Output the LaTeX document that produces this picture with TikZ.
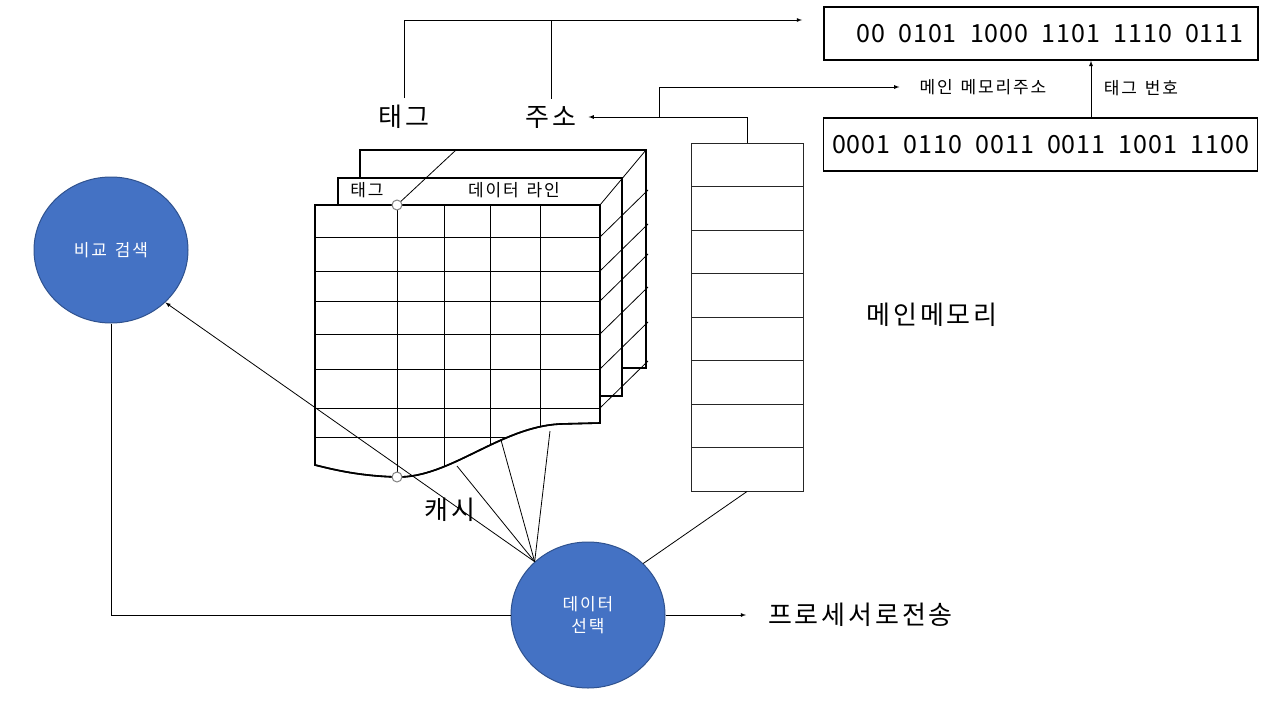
\documentclass[tikz,border=0pt]{standalone}
\usepackage{fontspec}
\setmainfont[LetterSpace=11, WordSpace=1.4]{Noto Sans CJK KR}
\newfontfamily\bitsfont[LetterSpace=4, WordSpace=2]{Noto Sans CJK KR}
\usetikzlibrary{arrows}
\usetikzlibrary{positioning}
\usetikzlibrary{shapes.geometric}
\definecolor{procfill}{HTML}{4472C4}
\definecolor{procedge}{HTML}{2F528F}
\tikzset {
  % plain connector
  narr/.style = {
    draw = black,
    line width = 0.8pt
  },
  % connector with an arrow head
  arr/.style = {
    narr,
    -latex
  },
  big label/.style = {
    inner sep = 0,
    font = \fontsize{26}{30}\selectfont
  },
  small label/.style = {
    inner sep = 0,
    font = \fontsize{17}{20}\selectfont
  }
}
\tikzset {
  bits box/.style = {
    draw = black,
    line width = 1.6pt,
    minimum width = 434pt,
    minimum height = 53pt,
    font = \bitsfont\fontsize{25}{30}\selectfont
  },
  % blue processing step
  process/.style = {
    ellipse,
    draw = procedge,
    fill = procfill,
    line width = 1pt,
    minimum width = 154pt,
    minimum height = 146pt,
    text = white,
    align = center,
    font = \fontsize{17}{22}\selectfont
  },
  sheet/.style = {
    draw = black,
    line width = 1.6pt,
    fill = white
  },
  mem cell/.style = {
    draw = black!85,
    line width = 1pt,
    minimum width = 112pt,
    minimum height = 43.5pt,
    inner sep = 0
  },
  joint/.style = {
    circle,
    draw = gray,
    fill = white,
    line width = 1pt,
    minimum size = 10pt,
    inner sep = 0
  }
}
\begin{document}
\begin{tikzpicture}[x=1pt, y=-1pt]
    \useasboundingbox (0,0) rectangle (1267,712);

    % cache sheets, back to front
    \draw[sheet] (360,150) rectangle (646,368);
    \draw[sheet] (338,178) rectangle (622,396);
    \node[small label] (tab-tag) at (367,190) {태그};
    \node[small label] (tab-data) at (514,190) {데이터 라인};
    \draw[sheet] (315,205) -- (600,205) -- (600,423) -- (560,424)
      .. controls (500,427) and (450,478) .. (397,477)
      .. controls (360,476) and (335,470) .. (315,465) -- cycle;
    \begin{scope}
      \clip (315,205) -- (600,205) -- (600,423) -- (560,424)
        .. controls (500,427) and (450,478) .. (397,477)
        .. controls (360,476) and (335,470) .. (315,465) -- cycle;
      \foreach \x in {397,444,490,540}
        \draw[narr] (\x,205) -- (\x,480);
      \foreach \y in {237,271,301,334,369,408,437}
        \draw[narr] (315,\y) -- (600,\y);
    \end{scope}
    \draw[sheet, fill = none] (315,205) -- (600,205) -- (600,423) -- (560,424)
      .. controls (500,427) and (450,478) .. (397,477)
      .. controls (360,476) and (335,470) .. (315,465) -- cycle;
    \draw[narr] (397,205) -- (456,150);
    \draw[narr] (600,205) -- (646,150);
    \foreach \y in {237,271,301,334,369,408}
      \draw[narr] (600,\y) -- ++(48,-47);

    % main memory
    \foreach \i in {0,...,7}
      \node[mem cell] (mem-\i) at (747,164.75+43.5*\i) {};

    % address boxes
    \node[bits box] (tag-bits) at (1041,33.5) {\hspace{18pt}00 0101 1000 1101 1110 0111};
    \node[bits box] (addr-bits) at (1040.5,144.5) {0001 0110 0011 0011 1001 1100};

    % labels
    \node[big label] (tag) at (404,117) {태그};
    \node[big label] (addr) at (551,117) {주소};
    \node[big label] (cache) at (450,510) {캐시};
    \node[big label] (mainmem) at (932,315) {메인메모리};
    \node[big label, anchor = west] (to-cpu) at (768,615) {프로세서로전송};
    \node[small label] (mm-addr) at (983,87) {메인 메모리주소};
    \node[small label] (tag-no) at (1141,88) {태그 번호};

    % steps
    \node[process] (compare) at (111,250) {비교 검색};
    \node[process] (select) at (588,615) {데이터\\선택};

    \coordinate (bits-in) at (802,20);
    \coordinate (split) at (659,117);
    \coordinate (row-a) at (457,466);
    \coordinate (row-b) at (501,440);
    \coordinate (row-c) at (550,431);

    \draw[arr] ([yshift=7pt]tag.north) |- (bits-in);
    \draw[narr] ([yshift=7pt]addr.north) -- (addr.north |- bits-in);
    \draw[arr] (mem-0.north) |- ([xshift=12pt]addr.east);
    \draw[arr] (split) |- ([xshift=-20pt]mm-addr.west);
    \draw[arr] (addr-bits.north -| 1091,0) -- (tag-bits.south -| 1091,0);

    \draw[arr] (select.135) -- (compare.-44);
    \draw[narr] (select.135) -- (row-a);
    \draw[narr] (select.135) -- (row-b);
    \draw[narr] (select.135) -- (row-c);
    \draw[narr] (select.43) -- (mem-7.south);
    \draw[arr] (select.east) -- ([xshift=-22pt]to-cpu.west);
    \draw[narr] (compare.south) |- (select.west);

    \node[joint] (tag-top) at (397,205) {};
    \node[joint] (tag-bottom) at (397,477) {};
  \end{tikzpicture}
\end{document}
